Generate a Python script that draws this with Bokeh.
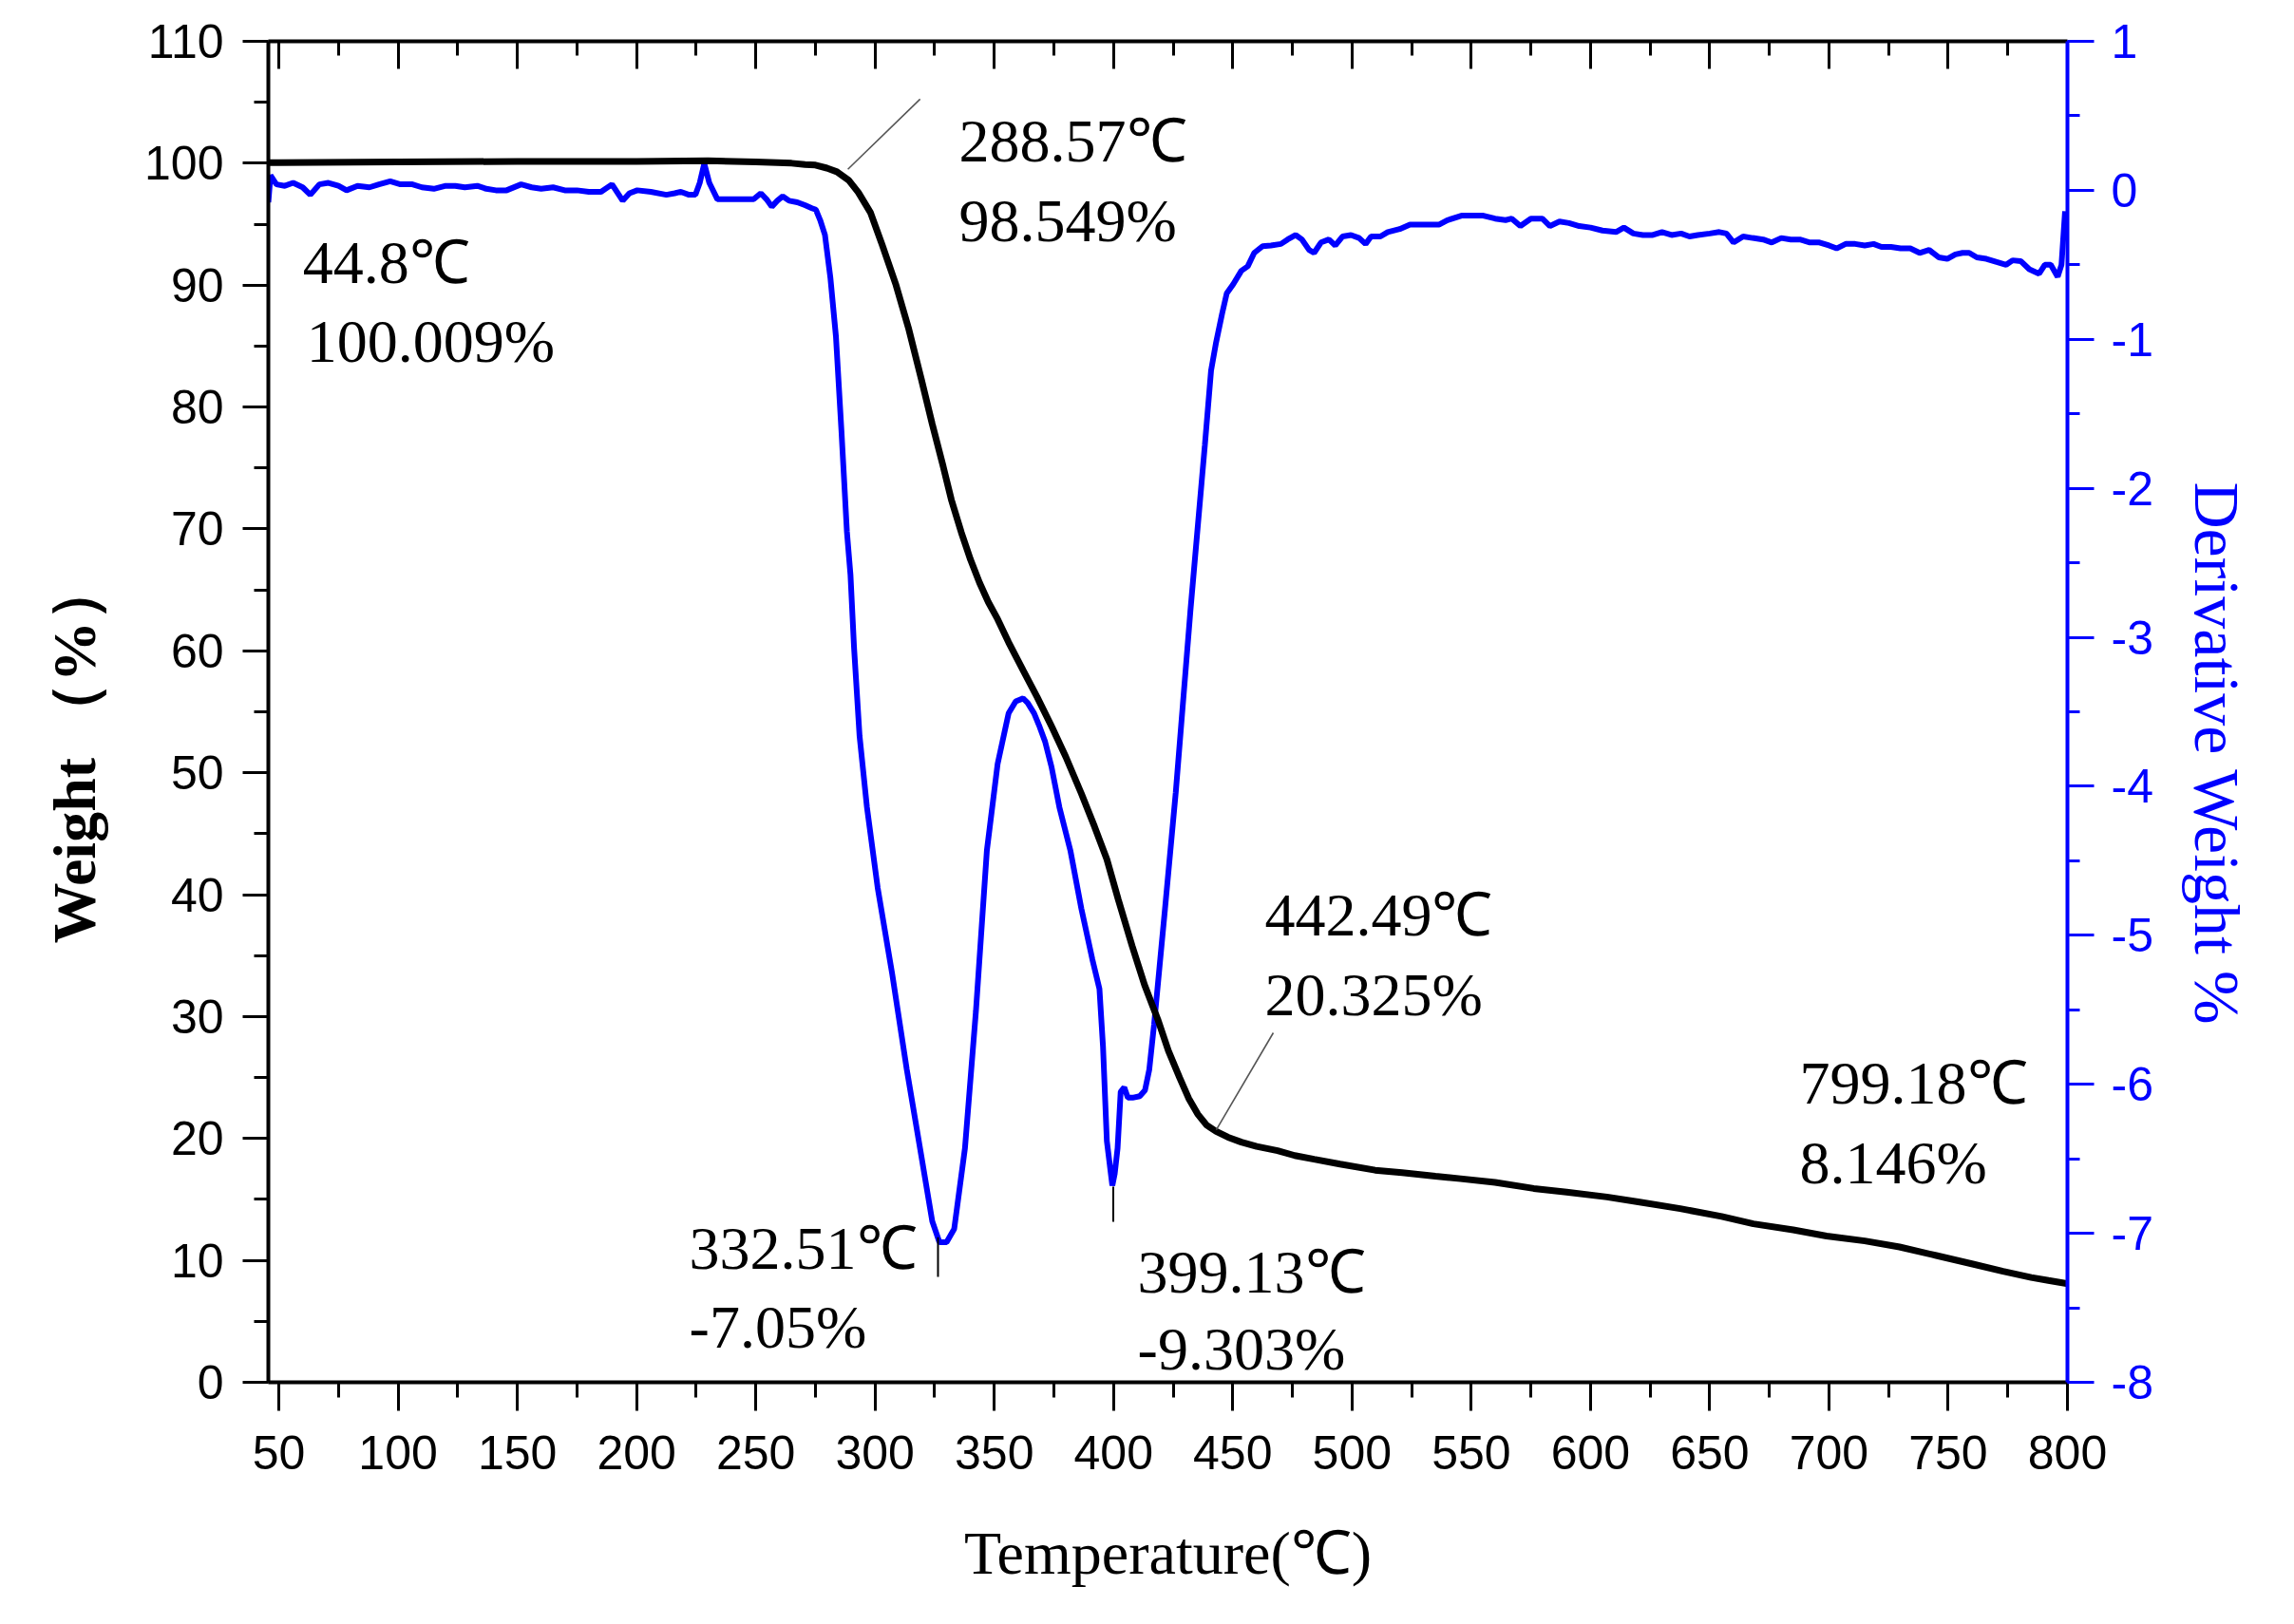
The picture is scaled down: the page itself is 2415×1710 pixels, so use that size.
from bokeh.plotting import figure
from bokeh.models import LinearAxis, Range1d, SingleIntervalTicker, Label, PrintfTickFormatter, Title
from bokeh.embed import file_html
from bokeh.resources import INLINE

# ---- data ----
tga_temp = [45.6, 50, 100, 150, 200, 230, 250, 265, 270.65, 275, 279.8, 284, 289.0, 293,
            298.1, 303, 308.8, 314, 319.4, 324, 328.6, 332, 336.2, 340, 343.8, 347.5, 351.4,
            356, 362.1, 368, 374.3, 380, 386.5, 392, 397.2, 402, 407.8, 413, 418.5, 423,
            427.7, 431.5, 435.3, 439, 442.9, 448, 453.6, 460, 468.8, 476, 484.1, 495, 509.7,
            521, 535, 545.5, 560, 576.2, 590, 606.9, 620, 637.6, 655, 668.3, 685, 699, 715,
            729.6, 745, 760.3, 773, 784.8, 792, 799.6]
tga_weight = [100.05, 100.05, 100.1, 100.15, 100.15, 100.2, 100.1, 100.0, 99.9, 99.85, 99.6,
              99.3, 98.6, 97.6, 95.95, 93.3, 90.0, 86.5, 82.3, 78.6, 75.1, 72.4, 69.7, 67.5,
              65.6, 64.0, 62.6, 60.7, 58.4, 56.2, 53.7, 51.3, 48.3, 45.6, 42.9, 39.6, 35.8,
              32.6, 29.8, 27.2, 25.0, 23.3, 22.0, 21.1, 20.6, 20.1, 19.7, 19.35, 19.0, 18.6,
              18.3, 17.9, 17.4, 17.2, 16.9, 16.7, 16.4, 15.9, 15.6, 15.2, 14.8, 14.25, 13.6,
              13.0, 12.5, 12.0, 11.6, 11.1, 10.4, 9.7, 9.1, 8.6, 8.35, 8.1]

dtg_temp = [45.6, 46.5, 49, 52.5, 56, 60, 63.2, 67, 70.8, 75, 78.4, 83, 88, 92, 96.7, 101,
            106, 110, 115, 120, 124, 128, 133.2, 137, 141, 145.5, 151.6, 156, 160, 165, 169.9,
            175, 180, 185.1, 189.7, 194.2, 197, 200.3, 206, 212.5, 216, 218.6, 222, 224.7,
            226.5, 228.4, 230.5, 233.9, 240, 245, 249.1, 252.1, 254.5, 256.7, 259, 261.3, 264,
            267.4, 270.6, 273.5, 275.2, 277, 279.0, 281.3, 283.6, 285.9, 288.2, 289.7, 291.2,
            293.5, 296.6, 301.1, 307.2, 313.3, 319.4, 324.0, 327.0, 330.0, 333.2, 337.7,
            342.3, 346.9, 351.4, 356.0, 359, 362.1, 364, 366.7, 369, 371.3, 374, 377.3, 381.9,
            386.5, 391.1, 394.1, 395.6, 397.2, 399.5, 400.5, 401.7, 403, 404.5, 406, 408, 411,
            413.2, 415, 417.0, 421.6, 426.1, 432.2, 438.3, 440.9, 442.9, 445.5, 447.5, 450.2,
            453.6, 456.3, 459, 462.5, 466, 470.2, 473, 476.4, 479, 482, 484.1, 487, 490.3,
            493, 496, 499.6, 503, 505.7, 508, 511.9, 515, 520, 524.3, 530, 536.6, 540, 545.9,
            550, 555.1, 560, 564.4, 567, 570.6, 575, 579.8, 583, 587, 591, 595.3, 600, 605,
            610.7, 614, 618, 622, 626.1, 630, 634, 638, 641.5, 645, 650, 654, 657.0, 660, 664,
            668, 672.4, 676, 680, 684, 687.8, 692, 696, 700, 703.2, 707, 711, 715, 718.7, 722,
            726, 730, 734.1, 738, 742, 746, 749.6, 753, 756, 758.8, 762, 766, 770, 774.3, 777,
            780.4, 784, 788.1, 790.5, 793, 795.9, 797.5, 799.0]
dtg_value = [-0.08, 0.10, 0.04, 0.03, 0.05, 0.02, -0.03, 0.04, 0.05, 0.03, 0.00, 0.03, 0.02,
             0.04, 0.06, 0.04, 0.04, 0.02, 0.01, 0.03, 0.03, 0.02, 0.03, 0.01, 0.00, 0.00,
             0.04, 0.02, 0.01, 0.02, 0.00, 0.00, -0.01, -0.01, 0.04, -0.07, -0.02, 0.00,
             -0.01, -0.03, -0.02, -0.01, -0.03, -0.03, 0.05, 0.18, 0.05, -0.06, -0.06, -0.06,
             -0.06, -0.02, -0.06, -0.11, -0.07, -0.04, -0.07, -0.08, -0.10, -0.12, -0.13,
             -0.20, -0.30, -0.59, -0.98, -1.61, -2.29, -2.58, -3.07, -3.66, -4.14, -4.68,
             -5.26, -5.90, -6.48, -6.92, -7.06, -7.06, -6.97, -6.43, -5.51, -4.43, -3.85,
             -3.51, -3.43, -3.41, -3.44, -3.51, -3.60, -3.70, -3.87, -4.14, -4.43, -4.82,
             -5.16, -5.36, -5.75, -6.38, -6.68, -6.60, -6.43, -6.05, -6.02, -6.09, -6.09,
             -6.08, -6.04, -5.90, -5.60, -4.82, -4.04, -2.83, -1.71, -1.21, -1.03, -0.83,
             -0.69, -0.63, -0.54, -0.51, -0.42, -0.375, -0.37, -0.36, -0.33, -0.30, -0.33,
             -0.40, -0.42, -0.35, -0.33, -0.37, -0.31, -0.30, -0.32, -0.36, -0.31, -0.31,
             -0.28, -0.26, -0.23, -0.23, -0.23, -0.20, -0.17, -0.17, -0.17, -0.19, -0.20,
             -0.19, -0.24, -0.19, -0.19, -0.24, -0.21, -0.22, -0.24, -0.25, -0.27, -0.28,
             -0.25, -0.29, -0.30, -0.30, -0.28, -0.30, -0.29, -0.31, -0.30, -0.29, -0.28,
             -0.29, -0.35, -0.31, -0.32, -0.33, -0.35, -0.32, -0.33, -0.33, -0.35, -0.35,
             -0.37, -0.39, -0.36, -0.36, -0.37, -0.36, -0.38, -0.38, -0.39, -0.39, -0.42,
             -0.40, -0.45, -0.46, -0.43, -0.42, -0.42, -0.45, -0.46, -0.48, -0.50, -0.47,
             -0.475, -0.53, -0.56, -0.50, -0.50, -0.58, -0.50, -0.14]

# annotation texts: (text, temperature, weight-axis value)
ann_text = ["288.57℃", "98.549%", "44.8℃", "100.009%", "332.51℃", "-7.05%",
            "399.13℃", "-9.303%", "442.49℃", "20.325%", "799.18℃", "8.146%"]
ann_x = [335.2, 335.2, 60.0, 61.6, 222.1, 222.1, 410.1, 410.1, 463.4, 463.4, 687.7, 687.7]
ann_y = [101.83, 95.29, 91.86, 85.4, 10.99, 4.52, 9.04, 2.73, 38.33, 31.79, 24.54, 18.0]

# leader lines (grey) and marker lines (black)
lead_x0 = [288.6, 443.1]
lead_y0 = [99.5, 20.72]
lead_x1 = [318.9, 467.0]
lead_y1 = [105.26, 28.67]
mark_x = [326.4, 399.9]
mark_y0 = [11.9, 16.05]
mark_y1 = [8.65, 13.17]

SERIF = "Liberation Serif"
SANS = "Liberation Sans"
BLUE = "#0000FF"

p = figure(width=2404, height=1699, frame_width=1894, frame_height=1412,
           x_range=Range1d(45.6, 800), y_range=Range1d(0, 110),
           output_backend="svg", toolbar_location=None,
           min_border_left=282, min_border_right=228, min_border_top=43, min_border_bottom=244,
           x_axis_location=None, y_axis_location=None)
p.outline_line_color = None
p.xgrid.visible = False
p.ygrid.visible = False
p.background_fill_color = "white"
p.border_fill_color = "white"
p.extra_y_ranges = {"dtg": Range1d(-8, 1)}

def style_axis(ax, color="black"):
    ax.axis_line_width = 4
    ax.axis_line_color = color
    ax.major_tick_line_width = 3
    ax.minor_tick_line_width = 3
    ax.major_tick_line_color = color
    ax.minor_tick_line_color = color
    ax.major_label_text_font = SANS
    ax.major_label_text_font_size = "50px"
    ax.major_label_text_color = color
    ax.axis_label_text_font = SERIF
    ax.axis_label_text_font_size = "64px"
    ax.axis_label_text_font_style = "normal"
    ax.axis_label_text_color = color

xb = LinearAxis(ticker=SingleIntervalTicker(interval=50, num_minor_ticks=2),
                axis_label="Temperature(℃)")
style_axis(xb)
xb.major_tick_in = 0
xb.major_tick_out = 30
xb.minor_tick_in = 0
xb.minor_tick_out = 16
xb.major_label_standoff = 26
xb.axis_label_standoff = 50
p.add_layout(xb, "below")

xt = LinearAxis(ticker=SingleIntervalTicker(interval=50, num_minor_ticks=2))
style_axis(xt)
xt.major_tick_in = 29
xt.major_tick_out = 0
xt.minor_tick_in = 15
xt.minor_tick_out = 0
xt.major_label_text_font_size = "0px"
xt.major_label_text_color = None
p.add_layout(xt, "above")

yl = LinearAxis(ticker=SingleIntervalTicker(interval=10, num_minor_ticks=2))
style_axis(yl)
yl.major_tick_in = 0
yl.major_tick_out = 27
yl.minor_tick_in = 0
yl.minor_tick_out = 15
yl.major_label_standoff = 20
p.add_layout(yl, "left")

yr = LinearAxis(y_range_name="dtg", ticker=SingleIntervalTicker(interval=1, num_minor_ticks=2),
                formatter=PrintfTickFormatter(format="%d"))
style_axis(yr, BLUE)
yr.major_tick_in = 0
yr.major_tick_out = 28
yr.minor_tick_in = 0
yr.minor_tick_out = 13
yr.major_label_standoff = 18
p.add_layout(yr, "right")

# vertical axis titles (side titles, placed below the centre as in the original)
p.add_layout(Title(text="Weight （%）", align="left", offset=462, standoff=71,
                   text_font=SERIF, text_font_size="64px", text_font_style="bold",
                   text_color="black"), "left")
p.add_layout(Title(text="Derivative Weight %", align="left", offset=464, standoff=53,
                   text_font=SERIF, text_font_size="68px", text_font_style="normal",
                   text_color=BLUE), "right")

# curves
p.line(dtg_temp, dtg_value, y_range_name="dtg", line_color=BLUE, line_width=6)
p.line(tga_temp, tga_weight, line_color="black", line_width=7)

# leader / marker lines
p.segment(lead_x0, lead_y0, lead_x1, lead_y1, line_color="#555555", line_width=1.6)
p.segment(mark_x, mark_y0, mark_x, mark_y1, line_color="black", line_width=2)

for t, x, y in zip(ann_text, ann_x, ann_y):
    p.add_layout(Label(x=x, y=y, text=t, text_font=SERIF, text_font_size="64px",
                       text_color="black", text_baseline="alphabetic", text_align="left"))

open("out.html", "w").write(file_html(p, INLINE))
